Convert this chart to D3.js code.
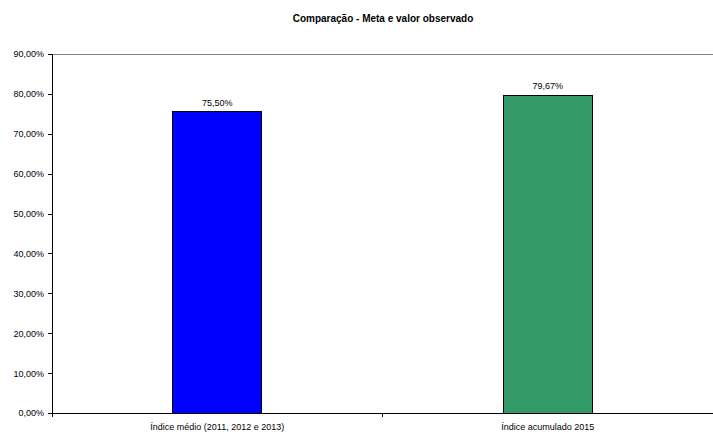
<!DOCTYPE html>
<html><head><meta charset="utf-8">
<script src="https://cdn.jsdelivr.net/npm/d3@7"></script>
<style>body{margin:0;background:#fff}svg{display:block}text{font-family:"Liberation Sans",Arial,sans-serif;fill:#000}</style>
</head><body>
<svg id="c" width="713" height="434"></svg>
<script>
const categories = ["Índice médio (2011, 2012 e 2013)", "Índice acumulado 2015"];
const values = [0.7550, 0.7967];
const colors = ["#0000FF", "#339966"];
const yTicks = [0, 0.1, 0.2, 0.3, 0.4, 0.5, 0.6, 0.7, 0.8, 0.9];
const title = "Comparação - Meta e valor observado";

const svg = d3.select("#c");
const m = {l: 52, r: 0, t: 54, b: 21};
const W = 713, H = 434;
const x = d3.scaleBand().domain(categories).range([m.l, W - m.r]).paddingInner(0).paddingOuter(0);
const y = d3.scaleLinear().domain([0, 0.9]).range([H - m.b, m.t]);
const fmt = v => d3.format(".2f")(v * 100).replace(".", ",") + "%";

svg.append("text").attr("x", 383).attr("y", 22).attr("text-anchor", "middle")
  .style("font-size", "10px").style("font-weight", "bold").text(title);

// top line
svg.append("line").attr("x1", m.l).attr("x2", W).attr("y1", y(0.9)).attr("y2", y(0.9))
  .attr("stroke", "#808080").attr("stroke-width", 1).attr("shape-rendering", "crispEdges");

const bw = 89;
svg.selectAll("rect.bar").data(values).join("rect").attr("class", "bar")
  .attr("x", (d, i) => x(categories[i]) + x.bandwidth() / 2 - bw / 2)
  .attr("y", d => y(d)).attr("width", bw).attr("height", d => y(0) - y(d))
  .attr("fill", (d, i) => colors[i]).attr("stroke", "#000").attr("stroke-width", 1)
  .attr("shape-rendering", "crispEdges");

svg.selectAll("text.lbl").data(values).join("text").attr("class", "lbl")
  .attr("x", (d, i) => x(categories[i]) + x.bandwidth() / 2)
  .attr("y", d => y(d) - 6).attr("text-anchor", "middle").style("font-size", "9px")
  .text(d => fmt(d));

const ya = svg.append("g").attr("transform", `translate(${m.l},0)`)
  .call(d3.axisLeft(y).tickValues(yTicks).tickSize(4).tickPadding(4).tickFormat(fmt));
ya.selectAll("text").style("font-size", "9px").style("font-family", '"Liberation Sans",Arial,sans-serif').attr("fill", "#000");
ya.selectAll("line,path").attr("stroke", "#000").attr("shape-rendering", "crispEdges");
ya.select("path").attr("d", `M0,${y(0.9)}V${y(0)}`);

const xa = svg.append("g").attr("transform", `translate(0,${y(0)})`);
xa.append("line").attr("x1", m.l).attr("x2", W).attr("stroke", "#000").attr("shape-rendering", "crispEdges");
const bounds = [x(categories[0]), x(categories[1]), W];
xa.selectAll("line.t").data(bounds.slice(0, 2)).join("line").attr("class", "t")
  .attr("x1", d => d).attr("x2", d => d).attr("y1", 0).attr("y2", 4).attr("stroke", "#000").attr("shape-rendering", "crispEdges");
xa.selectAll("text").data(categories).join("text")
  .attr("x", d => x(d) + x.bandwidth() / 2).attr("y", 17).attr("text-anchor", "middle")
  .style("font-size", "9px").text(d => d);
</script>
</body></html>
